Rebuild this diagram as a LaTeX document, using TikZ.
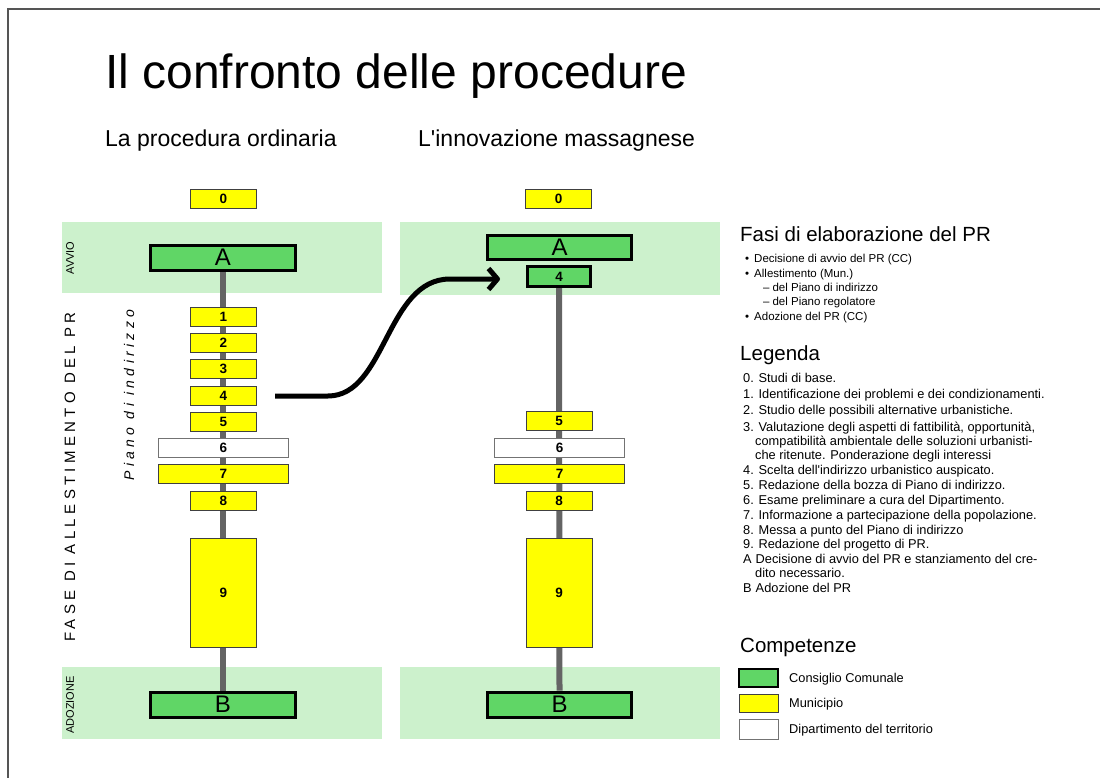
\documentclass[tikz,border=0pt]{standalone}
\usepackage{fontspec}
\setmainfont{Liberation Sans}[Ligatures=TeXOff]
\usetikzlibrary{arrows.meta}
\pgfdeclarelayer{back}
\pgfdeclarelayer{bg}
\pgfsetlayers{back,bg,main}
\definecolor{bandgreen}{RGB}{204,241,204}
\definecolor{ccgreen}{RGB}{96,214,102}
\definecolor{munyellow}{RGB}{255,255,0}
\definecolor{framegray}{RGB}{85,85,85}
\definecolor{conngray}{RGB}{100,100,100}
\begin{document}
\begin{tikzpicture}[x=1pt,y=-1pt,
  numbox/.style={draw, inner sep=0pt, font=\fontsize{13.5}{14}\selectfont\bfseries},
  ybox/.style={numbox, fill=munyellow, draw=black!75, line width=0.8pt, minimum width=66pt, minimum height=19pt},
  wybox/.style={ybox, minimum width=130pt},
  wbox/.style={numbox, fill=white, draw=black!55, line width=0.9pt, minimum width=130pt, minimum height=19pt},
  gbox/.style={draw=black, fill=ccgreen, inner sep=0pt, line width=3pt, minimum width=145pt, minimum height=25pt, font=\fontsize{24}{24}\selectfont},
  gsmall/.style={numbox, fill=ccgreen, draw=black, line width=2.5pt, minimum width=63pt, minimum height=20pt},
  conn/.style={draw=conngray, line width=6pt},
  sidelabel/.style={rotate=90, inner sep=0pt},
  head/.style={anchor=base west, inner sep=0pt, font=\fontsize{20.5}{24}\selectfont},
  bul/.style={anchor=base west, inner sep=0pt, font=\fontsize{11.5}{14}\selectfont},
  leg/.style={anchor=base west, inner sep=0pt, font=\fontsize{12.8}{15}\selectfont},
  swatch/.style={minimum width=39pt, minimum height=18pt, inner sep=0pt},
  swtext/.style={anchor=base west, inner sep=0pt, font=\fontsize{12.8}{15}\selectfont}
]
\useasboundingbox (0,0) rectangle (1100,778);
\begin{pgfonlayer}{back}
\fill[white] (0,0) rectangle (1100,778);
% bands
\fill[bandgreen] (62,222) rectangle (382,293);
\fill[bandgreen] (400,222) rectangle (720,295);
\fill[bandgreen] (62,667) rectangle (382,739);
\fill[bandgreen] (400,667) rectangle (720,739);
\end{pgfonlayer}
\draw[framegray, line width=1.5pt] (1100,9) -- (8,9) -- (8,778);

% titles
\node[anchor=base west, inner sep=0pt, font=\fontsize{48}{56}\selectfont] (title) at (105,89) {Il confronto delle procedure};
\node[anchor=base west, inner sep=0pt, font=\fontsize{23}{28}\selectfont] (subL) at (105,147) {La procedura ordinaria};
\node[anchor=base west, inner sep=0pt, font=\fontsize{23}{28}\selectfont] (subR) at (418,147) {L'innovazione massagnese};

% side labels
\node[sidelabel, font=\fontsize{11}{12}\selectfont] (avvio) at (70,258) {AVVIO};
\node[sidelabel, font=\fontsize{11}{12}\selectfont] (adoz) at (70,705) {ADOZIONE};
\node[sidelabel, font=\fontsize{15}{16}\selectfont\addfontfeature{LetterSpace=29}] (fase) at (70,477) {FASE DI ALLESTIMENTO DEL PR};
\node[sidelabel, font=\fontsize{14}{16}\selectfont\itshape\addfontfeature{LetterSpace=31}] (piano) at (129,395) {Piano di indirizzo};

% left column
\node[ybox] (l0) at (223.5,199) {0};
\node[gbox] (lA) at (223,257.5) {A};
\node[ybox] (l1) at (223.5,317) {1};
\node[ybox] (l2) at (223.5,343) {2};
\node[ybox] (l3) at (223.5,369) {3};
\node[ybox] (l4) at (223.5,396) {4};
\node[ybox] (l5) at (223.5,422) {5};
\node[wbox] (l6) at (223.5,448) {6};
\node[wybox] (l7) at (223.5,474) {7};
\node[ybox] (l8) at (223.5,501) {8};
\node[ybox, minimum height=109pt] (l9) at (223.5,593) {9};
\node[gbox] (lB) at (223,704.5) {B};

% right column
\node[ybox] (r0) at (558.5,199) {0};
\node[gbox, minimum width=144pt, minimum height=24pt] (rA) at (559.5,247.5) {A};
\node[gsmall] (r4) at (559,276.5) {4};
\node[ybox] (r5) at (559,421) {5};
\node[wbox] (r6) at (559.5,448) {6};
\node[wybox] (r7) at (559.5,474) {7};
\node[ybox] (r8) at (559,501) {8};
\node[ybox, minimum height=109pt] (r9) at (559,593) {9};
\node[gbox, minimum width=144pt] (rB) at (559.5,704.5) {B};

\begin{pgfonlayer}{bg}
\draw[conn] (lA.south) -- (lB.north);
\draw[conn] (r4.south) -- (rB.north);
\end{pgfonlayer}

% arrow
\coordinate (arrS) at (275,396);
\coordinate (arrE) at (500,279);
\draw[line width=5pt, line join=round, -{Straight Barb[length=9pt,width=21pt,line join=round]}] (arrS) -- (328,396) .. controls (386,396) and (386,279) .. (450,279) -- (arrE);

% right text
\node[head] (fasi) at (740,241) {Fasi di elaborazione del PR};
\node[bul] (b1) at (745,262) {\textbullet\hspace{5pt}Decisione di avvio del PR (CC)};
\node[bul] (b2) at (745,277) {\textbullet\hspace{5pt}Allestimento (Mun.)};
\node[bul] (b3) at (763,291) {–\hspace{3pt}del Piano di indirizzo};
\node[bul] (b4) at (763,305) {–\hspace{3pt}del Piano regolatore};
\node[bul] (b5) at (745,320) {\textbullet\hspace{5pt}Adozione del PR (CC)};

\node[head] (legenda) at (740,360) {Legenda};
\node[leg] (g0) at (743,382) {0. Studi di base.};
\node[leg] (g1) at (743,398) {1. Identificazione dei problemi e dei condizionamenti.};
\node[leg] (g2) at (743,414) {2. Studio delle possibili alternative urbanistiche.};
\node[leg] (g3) at (743,431) {3. Valutazione degli aspetti di fattibilità, opportunità,};
\node[leg] (g3b) at (755,445) {compatibilità ambientale delle soluzioni urbanisti-};
\node[leg] (g3c) at (755,459) {che ritenute. Ponderazione degli interessi};
\node[leg] (g4) at (743,474) {4. Scelta dell'indirizzo urbanistico auspicato.};
\node[leg] (g5) at (743,489) {5. Redazione della bozza di Piano di indirizzo.};
\node[leg] (g6) at (743,504) {6. Esame preliminare a cura del Dipartimento.};
\node[leg] (g7) at (743,519) {7. Informazione a partecipazione della popolazione.};
\node[leg] (g8) at (743,534) {8. Messa a punto del Piano di indirizzo};
\node[leg] (g9) at (743,548) {9. Redazione del progetto di PR.};
\node[leg] (gA) at (743,563) {A\hspace{4pt}Decisione di avvio del PR e stanziamento del cre-};
\node[leg] (gA2) at (755,577) {dito necessario.};
\node[leg] (gB) at (743,592) {B\hspace{4pt}Adozione del PR};

\node[head] (comp) at (740,652) {Competenze};
\node[swatch, fill=ccgreen, draw=black, line width=2pt] (sw1) at (758.5,677.5) {};
\node[swatch, fill=munyellow, draw=black!75, line width=0.9pt] (sw2) at (758.5,703) {};
\node[swatch, fill=white, draw=black!55, line width=0.9pt, minimum height=20pt] (sw3) at (758.5,729.5) {};
\node[swtext] (t1) at (789,682) {Consiglio Comunale};
\node[swtext] (t2) at (789,707) {Municipio};
\node[swtext] (t3) at (789,733) {Dipartimento del territorio};
\end{tikzpicture}
\end{document}
